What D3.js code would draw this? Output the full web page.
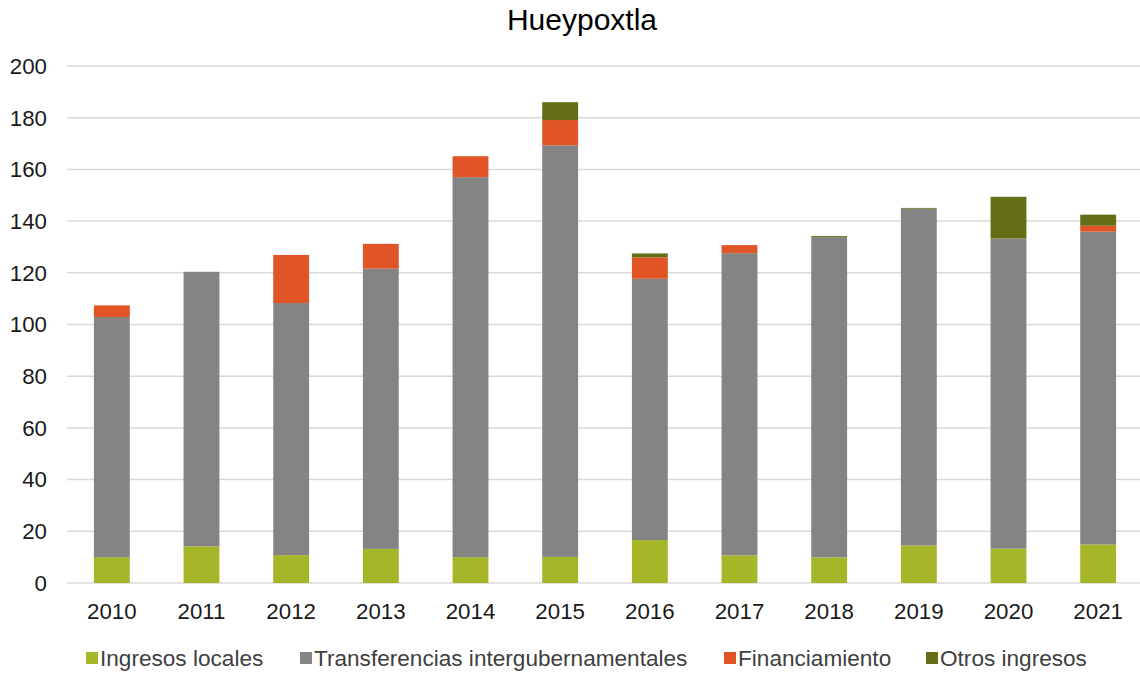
<!DOCTYPE html>
<html>
<head>
<meta charset="utf-8">
<script src="https://cdn.jsdelivr.net/npm/d3@7"></script>
<style>
  body { margin: 0; background: #fff; }
  svg { font-family: "Liberation Sans", Arial, sans-serif; }
</style>
</head>
<body>
<svg width="1140" height="675"></svg>
<script>
// years on the x axis
let years = ["2010","2011","2012","2013","2014","2015","2016","2017","2018","2019","2020","2021"]
// series values
let ingresosLocales = [10.0, 14.2, 10.8, 13.2, 10.0, 10.1, 16.6, 10.7, 9.9, 14.5, 13.3, 14.9]
let transferencias  = [92.9, 106.2, 97.5, 108.4, 147.0, 159.2, 101.1, 116.9, 123.9, 130.3, 120.0, 121.0]
let financiamiento  = [4.5, 0, 18.6, 9.6, 8.1, 9.8, 8.3, 3.1, 0, 0, 0, 2.3]
let otrosIngresos   = [0, 0, 0, 0, 0, 6.9, 1.5, 0, 0.4, 0.3, 16.1, 4.3]
let yTicks = [0, 20, 40, 60, 80, 100, 120, 140, 160, 180, 200]

let seriesNames = ["Ingresos locales", "Transferencias intergubernamentales", "Financiamiento", "Otros ingresos"]
let seriesColors = ["#a5b729", "#848484", "#e05426", "#636e17"]
let seriesValues = [ingresosLocales, transferencias, financiamiento, otrosIngresos]

let rows = years.map((yr, i) => {
  let r = { year: yr }
  seriesNames.forEach((n, k) => r[n] = seriesValues[k][i])
  return r
})

var svg = d3.select("svg")
let plotLeft = 67, plotRight = 1143, plotTop = 66, plotBottom = 583

var x = d3.scaleBand().domain(years).range([plotLeft, plotRight]).paddingInner(0.6).paddingOuter(0.3)
var y = d3.scaleLinear().domain([0, 200]).range([plotBottom, plotTop])

// gridlines
svg.append("g")
  .selectAll("line")
  .data(yTicks)
  .enter()
  .append("line")
  .attr("x1", plotLeft)
  .attr("x2", 1140)
  .attr("y1", d => y(d))
  .attr("y2", d => y(d))
  .attr("stroke", "#d9d9d9")
  .attr("stroke-width", 1.5)

// y labels
svg.append("g")
  .selectAll("text")
  .data(yTicks)
  .enter()
  .append("text")
  .attr("x", 47)
  .attr("y", d => y(d))
  .attr("dy", "0.35em")
  .attr("text-anchor", "end")
  .attr("font-size", 22.3)
  .attr("fill", "#1a1a1a")
  .text(d => d)

// stacked bars
let stacked = d3.stack().keys(seriesNames)(rows)
svg.append("g")
  .selectAll("g")
  .data(stacked)
  .enter()
  .append("g")
  .attr("fill", (d, i) => seriesColors[i])
  .selectAll("rect")
  .data(d => d)
  .enter()
  .append("rect")
  .attr("x", d => x(d.data.year))
  .attr("width", x.bandwidth())
  .attr("y", d => y(d[1]))
  .attr("height", d => y(d[0]) - y(d[1]))

// x labels
svg.append("g")
  .selectAll("text")
  .data(years)
  .enter()
  .append("text")
  .attr("x", d => x(d) + x.bandwidth() / 2)
  .attr("y", 619)
  .attr("text-anchor", "middle")
  .attr("font-size", 22.3)
  .attr("fill", "#1a1a1a")
  .text(d => d)

// title
svg.append("text")
  .attr("x", 582)
  .attr("y", 30)
  .attr("text-anchor", "middle")
  .attr("font-size", 30)
  .attr("fill", "#000")
  .text("Hueypoxtla")

// legend
let legendX = [86, 300, 724, 926]
let legend = svg.append("g")
  .selectAll("g")
  .data(seriesNames)
  .enter()
  .append("g")
  .attr("transform", (d, i) => `translate(${legendX[i]},658)`)

legend.append("rect")
  .attr("x", 0)
  .attr("y", -6)
  .attr("width", 12)
  .attr("height", 12)
  .attr("fill", (d, i) => seriesColors[i])

legend.append("text")
  .attr("x", 14)
  .attr("y", 0)
  .attr("dy", "0.35em")
  .attr("font-size", 22.6)
  .attr("fill", "#404040")
  .text(d => d)
</script>
</body>
</html>
